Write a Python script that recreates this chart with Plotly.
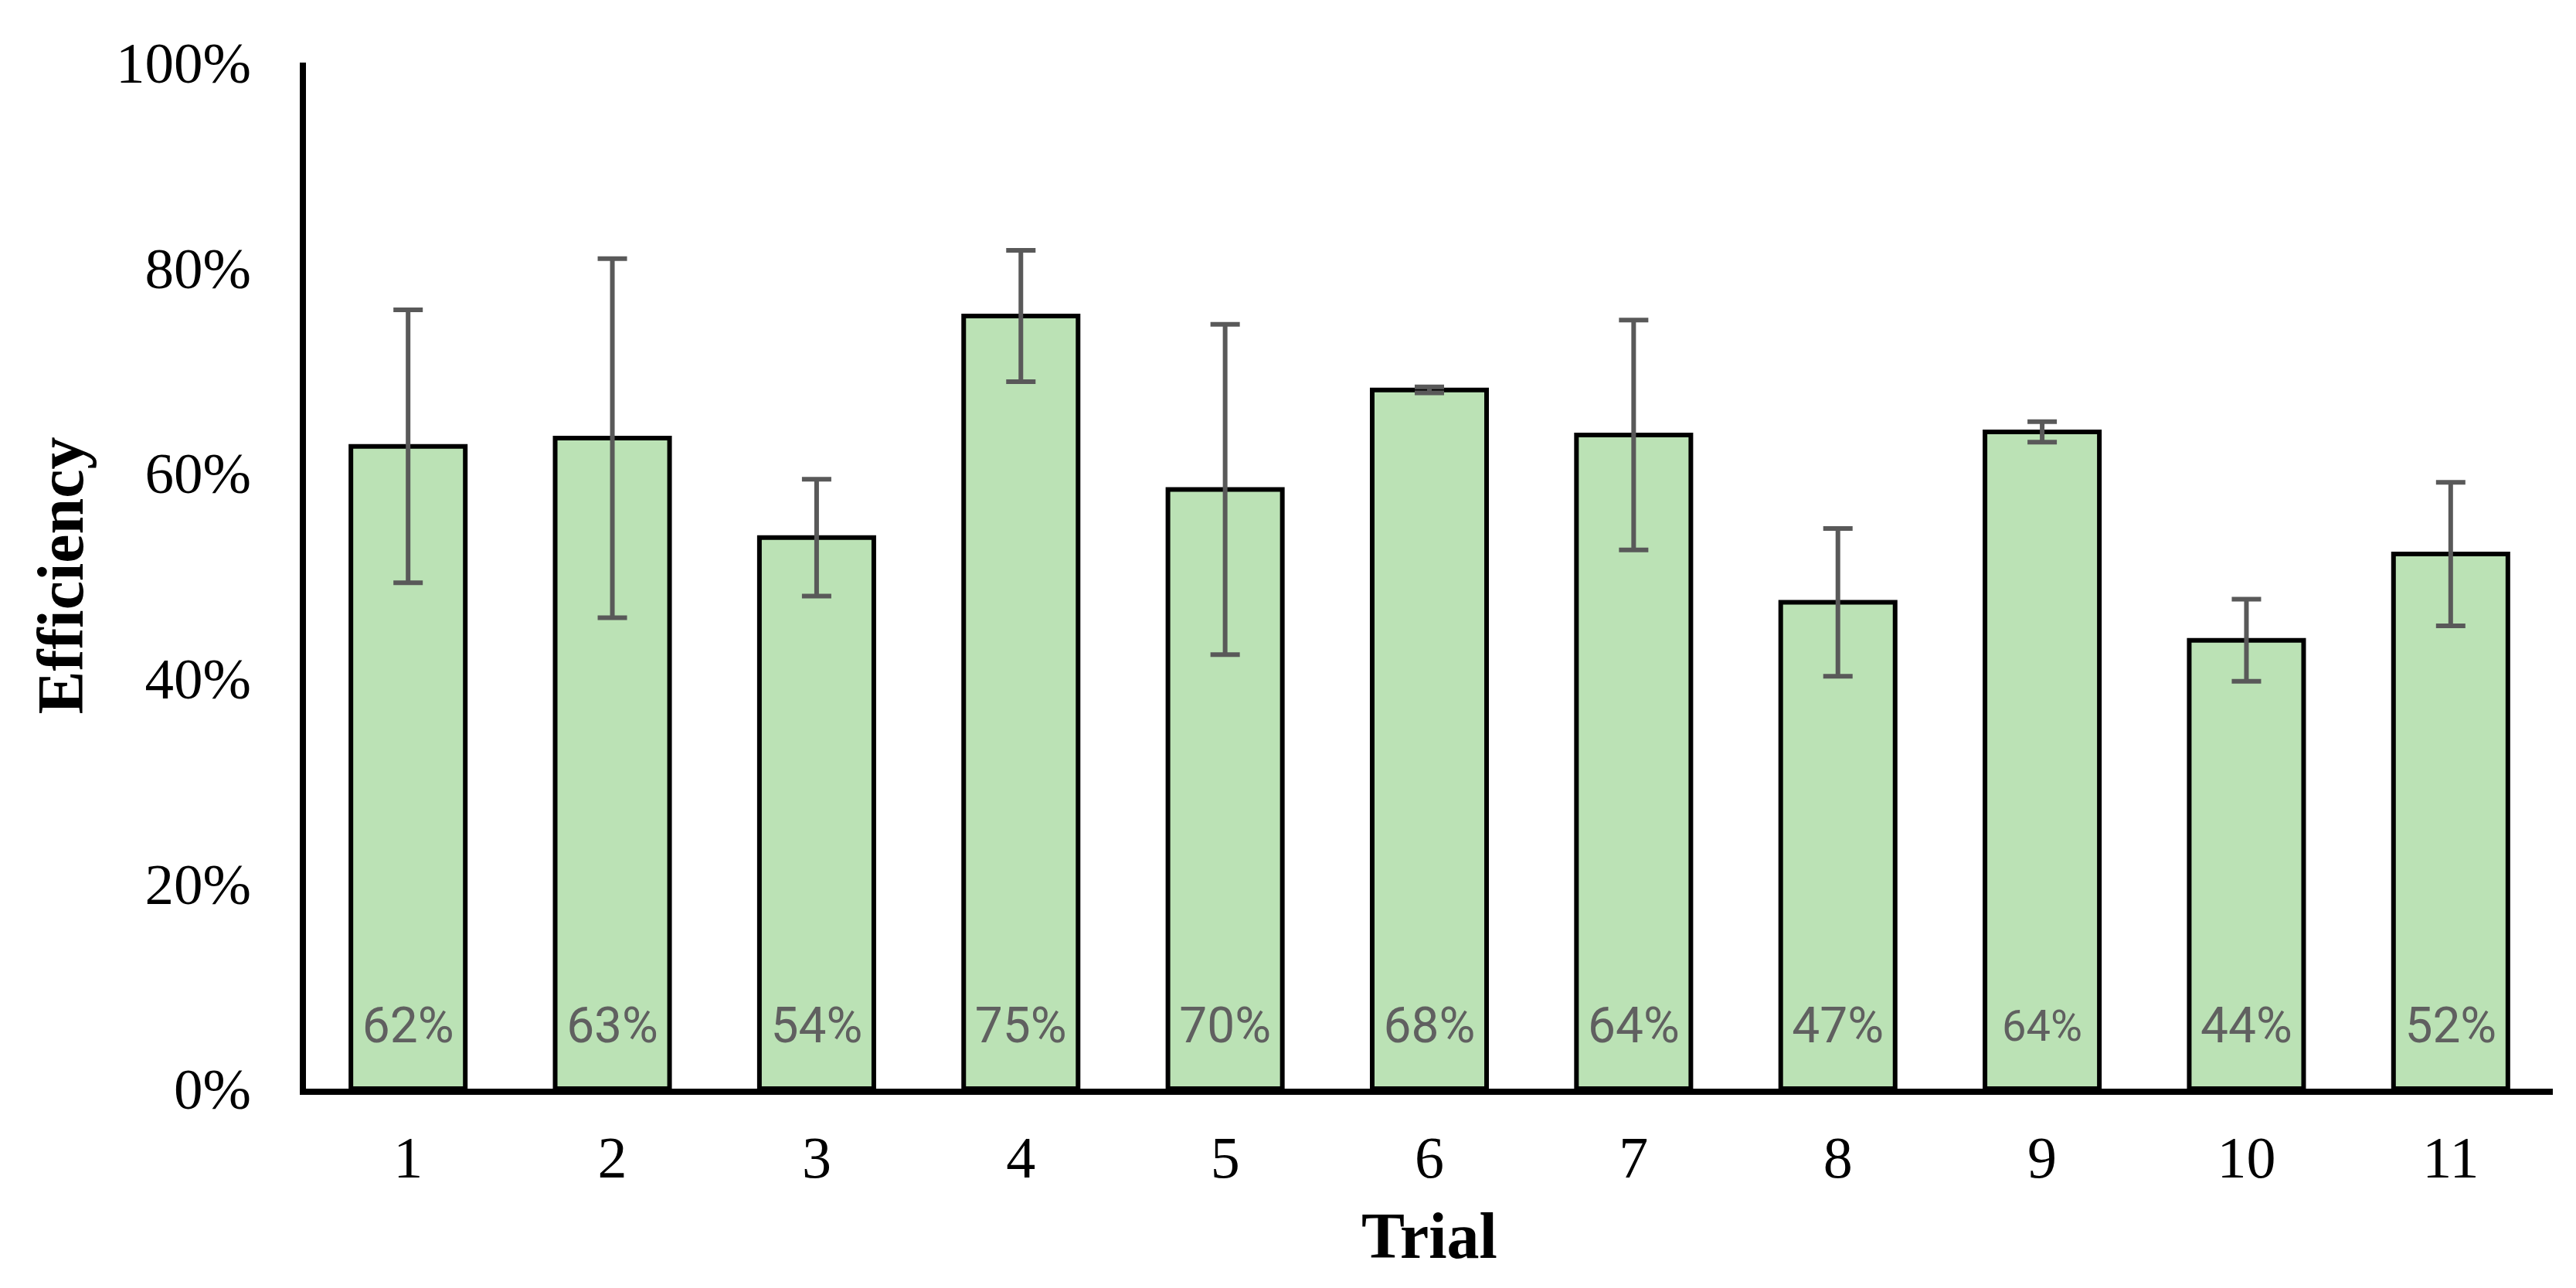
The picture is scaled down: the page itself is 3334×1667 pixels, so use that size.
import plotly.graph_objects as go

trials = ["1", "2", "3", "4", "5", "6", "7", "8", "9", "10", "11"]
efficiency = [0.626, 0.634, 0.537, 0.753, 0.584, 0.681, 0.637, 0.474, 0.640, 0.437, 0.521]
error = [0.133, 0.175, 0.057, 0.064, 0.161, 0.003, 0.112, 0.072, 0.010, 0.040, 0.070]
bar_labels = ["62%", "63%", "54%", "75%", "70%", "68%", "64%", "47%", "64%", "44%", "52%"]
label_sizes = [64, 64, 64, 64, 64, 64, 64, 64, 56, 64, 64]
y_ticks = [0, 0.2, 0.4, 0.6, 0.8, 1.0]
y_tick_text = ["0%", "20%", "40%", "60%", "80%", "100%"]

LABEL_LEVEL = 0.057

fig = go.Figure()
fig.add_trace(go.Bar(
    x=trials, y=efficiency, width=0.56,
    marker=dict(color="#BBE2B5", line=dict(color="#000000", width=6)),
    error_y=dict(type="data", array=error, visible=True, color="#595959",
                 thickness=6, width=19),
    showlegend=False, hoverinfo="skip",
))
fig.add_trace(go.Scatter(
    x=trials, y=[LABEL_LEVEL] * len(trials), mode="text", text=bar_labels,
    textposition="middle center",
    textfont=dict(family="Roboto, Noto Sans, sans-serif", size=label_sizes, color="#606060"),
    showlegend=False, hoverinfo="skip", cliponaxis=False,
))

serif = "Liberation Serif, Times New Roman, serif"
fig.update_layout(
    width=3334, height=1667,
    margin=dict(l=388, r=38, t=73, b=266, autoexpand=False),
    paper_bgcolor="white", plot_bgcolor="white",
    font=dict(family=serif, color="black", size=76),
    xaxis=dict(
        type="category", showline=True, linecolor="black", linewidth=8,
        showgrid=False, ticks="", ticklabelstandoff=16, automargin=False,
        tickfont=dict(family=serif, size=76, color="black"),
        title=dict(text="<b>Trial</b>", font=dict(family=serif, size=84, color="black"), standoff=33),
        range=[-0.5, 10.5],
    ),
    yaxis=dict(
        range=[0, 1.0], tickvals=y_ticks, ticktext=y_tick_text,
        showline=True, linecolor="black", linewidth=8,
        showgrid=False, ticks="", ticklabelstandoff=48, zeroline=False, automargin=False,
        tickfont=dict(family=serif, size=75, color="black"),
        title=dict(text="<b>Efficiency</b>", font=dict(family=serif, size=84, color="black"), standoff=18),
    ),
    bargap=0.44,
)
fig.write_html("out.html")
